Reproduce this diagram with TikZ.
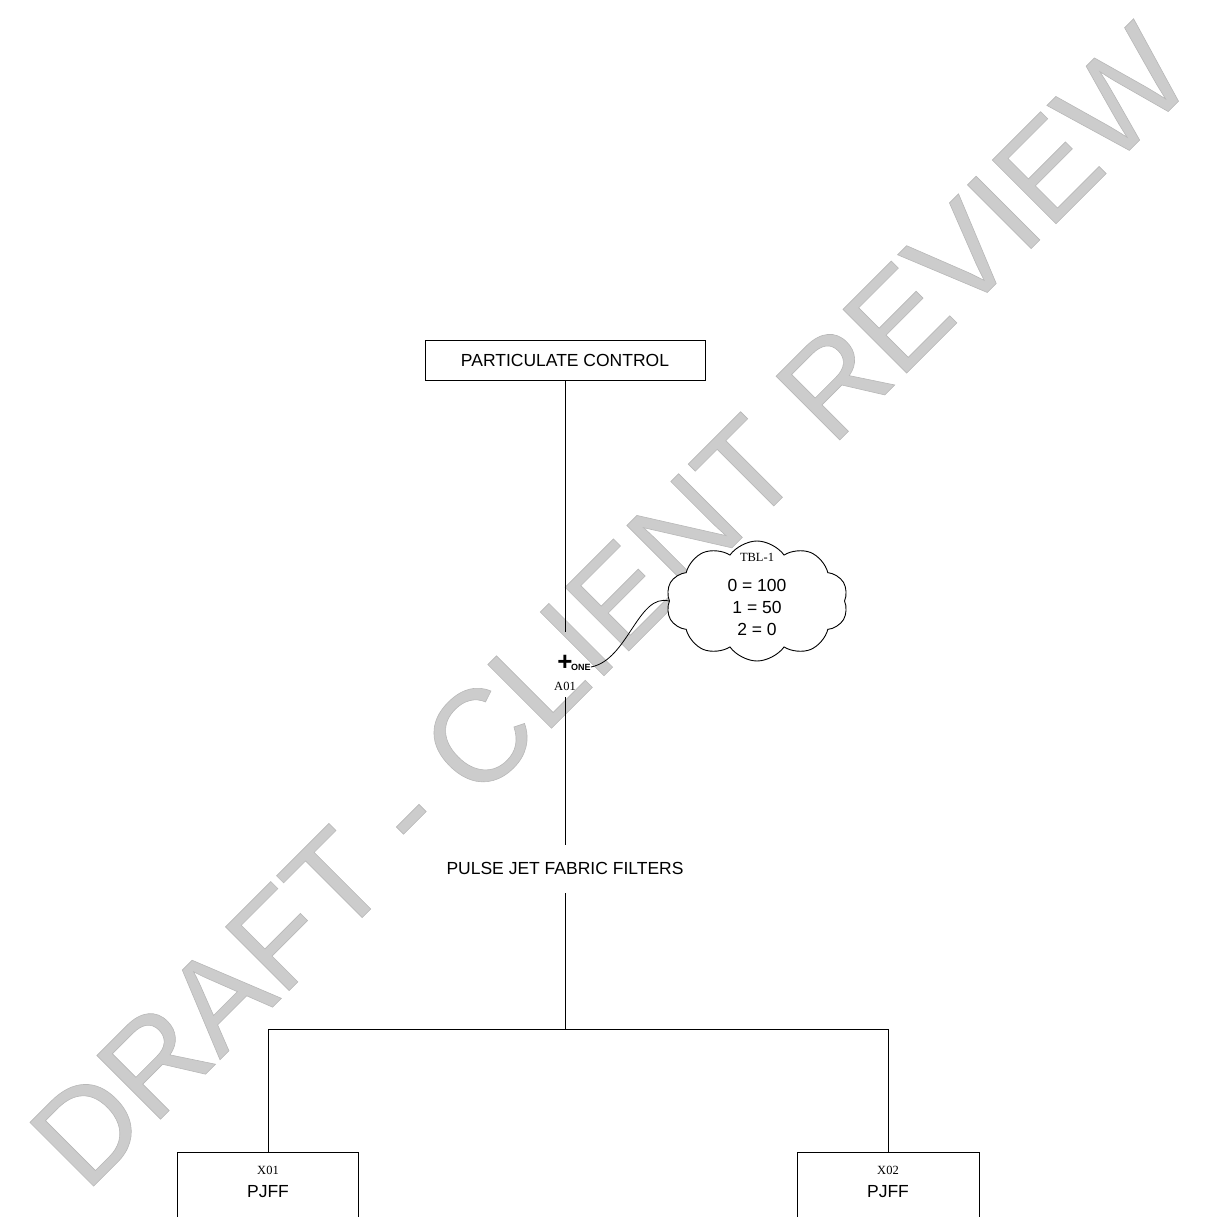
\documentclass[tikz,border=0pt]{standalone}
\usepackage{fontspec}
\setmainfont{Liberation Serif}
\newfontfamily\arialf{Liberation Sans}
\usetikzlibrary{shapes.symbols}
\begin{document}
\begin{tikzpicture}[x=1pt,y=-1pt,
  ln/.style={line width=0.9pt,draw=black},
  bigtxt/.style={font=\arialf\fontsize{17.5}{20}\selectfont,inner sep=0pt},
  smalltxt/.style={font=\fontsize{12.5}{14}\selectfont,inner sep=0pt},
  boxst/.style={draw=black,line width=0.9pt,rectangle,inner sep=0pt}]
\useasboundingbox (0,0) rectangle (1208,1217);
\clip (0,0) rectangle (1208,1217);
% watermark
\node[rotate=45,inner sep=0pt,text=black!20,font=\arialf\fontsize{131}{133}\selectfont] (wm) at (610,606)
  {\special{pdf:literal direct 0.72 G 0.6 w 2 Tr}DRAFT - CLIENT REVIEW\special{pdf:literal direct 0 Tr}};
% top box
\node[boxst,bigtxt,minimum width=280pt,minimum height=40pt] (pc) at (565,360) {PARTICULATE CONTROL};
\coordinate (c1) at (565,632);
\coordinate (c2) at (565,697);
\coordinate (c3) at (565,845);
\coordinate (c4) at (565,893);
\coordinate (j) at (565,1029);
\coordinate (jl) at (268,1029);
\coordinate (jr) at (888,1029);
\draw[ln] (pc.south) -- (c1);
\node[inner sep=0pt,font=\arialf\bfseries\fontsize{26}{26}\selectfont] (plus) at (565,663) {+};
\node[inner sep=0pt,anchor=west,font=\arialf\bfseries\fontsize{9}{9}\selectfont] (one) at (571,667) {ONE};
\node[smalltxt] (a01) at (565,686) {A01};
\draw[ln] (c2) -- (c3);
\node[bigtxt] (pjf) at (565,868) {PULSE JET FABRIC FILTERS};
\draw[ln] (c4) -- (j);
\draw[ln] (jl) -- (jr);
% cloud
\node[cloud,draw=black,line width=0.9pt,fill=white,cloud puffs=10,cloud puff arc=110,aspect=1.5,
  minimum width=182pt,minimum height=120pt,inner sep=0pt] (cl) at (757,601) {};
\node[smalltxt] (tbl) at (757,557) {TBL-1};
\node[bigtxt,align=center,font=\arialf\fontsize{17.5}{22}\selectfont] (vals) at (757,607) {0 = 100\\1 = 50\\2 = 0};
\draw[line width=0.8pt] (one.east) .. controls (628,660) and (638,593) .. (cl.west);
% bottom boxes
\node[boxst,minimum width=181pt,minimum height=100pt] (x01) at (268,1202) {};
\node[boxst,minimum width=182pt,minimum height=100pt] (x02) at (888,1202) {};
\draw[ln] (jl) -- (x01.north);
\draw[ln] (jr) -- (x02.north);
\node[smalltxt] (x01t) at (268,1170) {X01};
\node[bigtxt] (x01p) at (268,1192) {PJFF};
\node[smalltxt] (x02t) at (888,1170) {X02};
\node[bigtxt] (x02p) at (888,1192) {PJFF};
\end{tikzpicture}
\end{document}
